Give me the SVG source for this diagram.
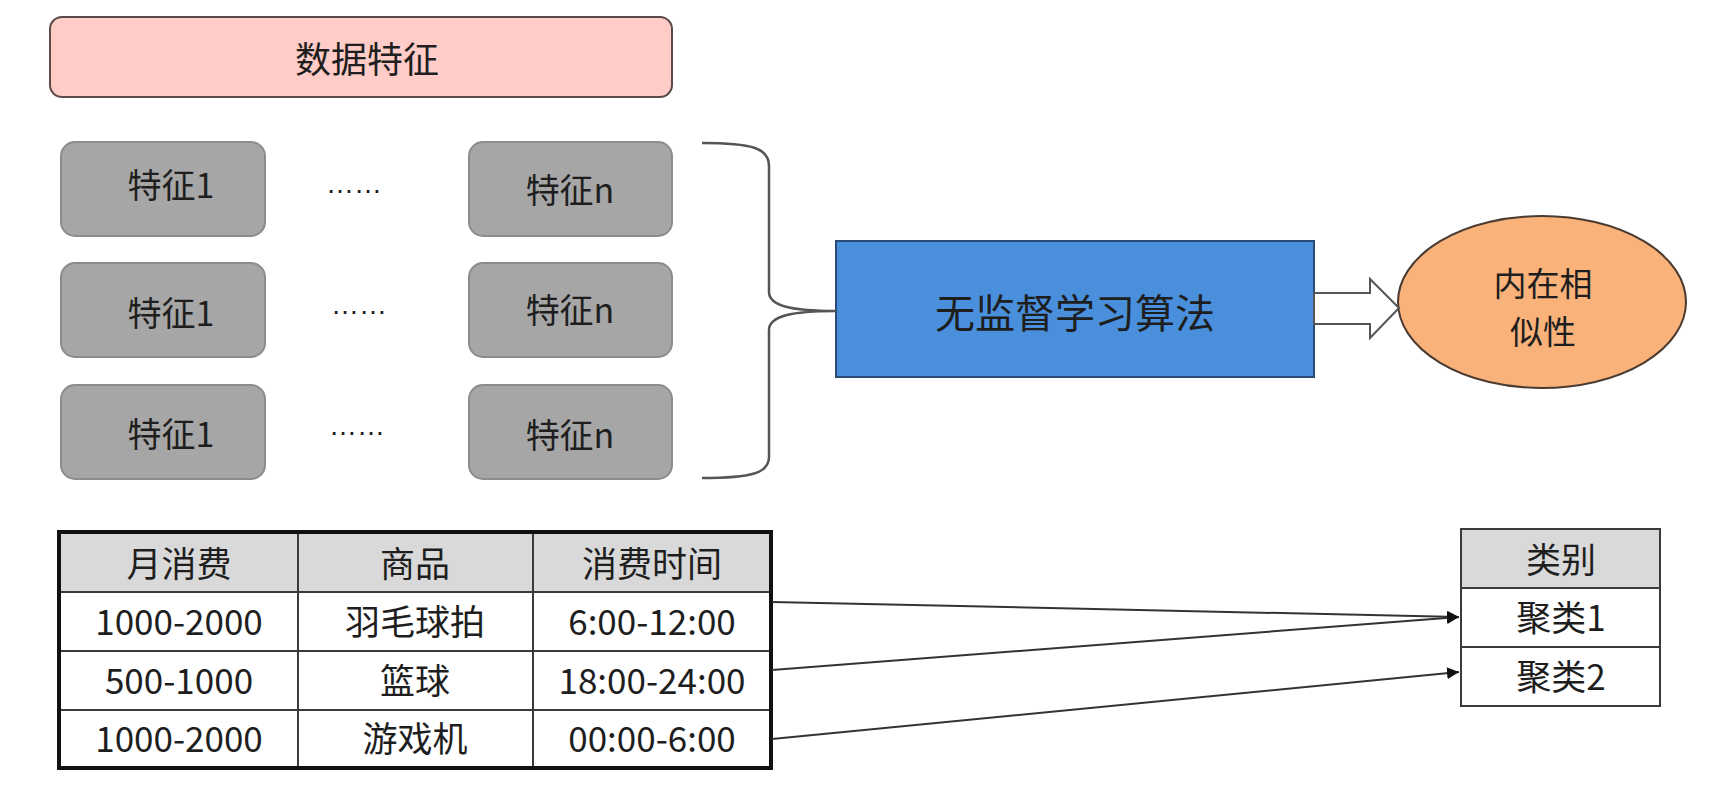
<svg xmlns="http://www.w3.org/2000/svg" width="1719" height="787" viewBox="0 0 1719 787">
<style>
.t{font-family:"Noto Sans CJK SC","Noto Sans",sans-serif;fill:#1e1e1e;text-anchor:middle;dominant-baseline:central}
.feat{fill:#a6a6a6;stroke:#8c8c8c;stroke-width:2}
.dots{font-family:"Liberation Sans",sans-serif;font-size:28px;fill:#1e1e1e}
.cell{fill:#ffffff;stroke:#3a3a3a;stroke-width:2}
.hdr{fill:#d9d9d9;stroke:#3a3a3a;stroke-width:2}
.conn{fill:none;stroke:#333;stroke-width:2}
</style>
<defs>
<marker id="ah" viewBox="0 0 10 10" refX="10" refY="5" markerWidth="6" markerHeight="6" markerUnits="strokeWidth" orient="auto">
<path d="M0,0 L10,5 L0,10 z" fill="#111"/>
</marker>
</defs>
<rect width="1719" height="787" fill="#ffffff"/>

<g id="data-features">
<rect x="50" y="17" width="622" height="80" rx="12" fill="#ffccc7" stroke="#5a4a48" stroke-width="2"/>
<text class="t" x="367" y="57" font-size="36">数据特征</text>
</g>

<g id="feature-r1c1"><rect class="feat" x="61" y="142" width="204" height="94" rx="14"/><text class="t" x="171" y="183" font-size="34">特征1</text></g>
<g id="feature-r1cn"><rect class="feat" x="469" y="142" width="203" height="94" rx="14"/><text class="t" x="570" y="188" font-size="34">特征n</text></g>
<g id="dots-r1"><text class="dots" x="326" y="193">……</text></g>

<g id="feature-r2c1"><rect class="feat" x="61" y="263" width="204" height="94" rx="14"/><text class="t" x="171" y="311" font-size="34">特征1</text></g>
<g id="feature-r2cn"><rect class="feat" x="469" y="263" width="203" height="94" rx="14"/><text class="t" x="570" y="308" font-size="34">特征n</text></g>
<g id="dots-r2"><text class="dots" x="331" y="314">……</text></g>

<g id="feature-r3c1"><rect class="feat" x="61" y="385" width="204" height="94" rx="14"/><text class="t" x="171" y="432" font-size="34">特征1</text></g>
<g id="feature-r3cn"><rect class="feat" x="469" y="385" width="203" height="94" rx="14"/><text class="t" x="570" y="433" font-size="34">特征n</text></g>
<g id="dots-r3"><text class="dots" x="329" y="435">……</text></g>

<g id="algorithm">
<rect x="836" y="241" width="478" height="136" fill="#4a8fdb" stroke="#2c4a78" stroke-width="2"/>
<text class="t" x="1075" y="311" font-size="40">无监督学习算法</text>
</g>

<g id="similarity">
<ellipse cx="1542" cy="302" rx="144" ry="86" fill="#f9b27a" stroke="#4a3a30" stroke-width="2"/>
<text class="t" x="1543" y="282" font-size="33">内在相<tspan x="1543" dy="48">似性</tspan></text>
</g>

<g id="table-data">
<rect class="hdr" x="59" y="532" width="239" height="60"/>
<rect class="hdr" x="298" y="532" width="235" height="60"/>
<rect class="hdr" x="533" y="532" width="238" height="60"/>
<rect class="cell" x="59" y="592" width="239" height="59"/>
<rect class="cell" x="298" y="592" width="235" height="59"/>
<rect class="cell" x="533" y="592" width="238" height="59"/>
<rect class="cell" x="59" y="651" width="239" height="59"/>
<rect class="cell" x="298" y="651" width="235" height="59"/>
<rect class="cell" x="533" y="651" width="238" height="59"/>
<rect class="cell" x="59" y="710" width="239" height="58"/>
<rect class="cell" x="298" y="710" width="235" height="58"/>
<rect class="cell" x="533" y="710" width="238" height="58"/>
<rect x="59" y="532" width="712" height="236" fill="none" stroke="#111" stroke-width="4"/>
<text class="t" x="179" y="561" font-size="35">月消费</text>
<text class="t" x="415" y="561" font-size="35">商品</text>
<text class="t" x="652" y="561" font-size="35">消费时间</text>
<text class="t" x="179" y="619" font-size="35">1000-2000</text>
<text class="t" x="415" y="619" font-size="35">羽毛球拍</text>
<text class="t" x="652" y="619" font-size="35">6:00-12:00</text>
<text class="t" x="179" y="678" font-size="35">500-1000</text>
<text class="t" x="415" y="678" font-size="35">篮球</text>
<text class="t" x="652" y="678" font-size="35">18:00-24:00</text>
<text class="t" x="179" y="736" font-size="35">1000-2000</text>
<text class="t" x="415" y="736" font-size="35">游戏机</text>
<text class="t" x="652" y="736" font-size="35">00:00-6:00</text>
</g>

<g id="table-category">
<rect class="hdr" x="1461" y="529" width="199" height="59"/>
<rect class="cell" x="1461" y="588" width="199" height="59"/>
<rect class="cell" x="1461" y="647" width="199" height="59"/>
<text class="t" x="1561" y="557" font-size="35">类别</text>
<text class="t" x="1561" y="615" font-size="35">聚类1</text>
<text class="t" x="1561" y="674" font-size="35">聚类2</text>
</g>

<g id="connectors">
<path d="M702,143 C752,143 769,148 769,166 L769,292 C769,306 792,311 836,311 C792,311 769,316 769,330 L769,457 C769,473 752,478 702,478" fill="none" stroke="#555" stroke-width="2.5"/>
<polygon points="1314,293 1370,293 1370,279 1399,308 1370,338 1370,324 1314,324" fill="#ffffff" stroke="#555" stroke-width="2"/>
<line class="conn" x1="772" y1="602" x2="1459" y2="617" marker-end="url(#ah)"/>
<line class="conn" x1="772" y1="670" x2="1459" y2="617" marker-end="url(#ah)"/>
<line class="conn" x1="772" y1="739" x2="1459" y2="672" marker-end="url(#ah)"/>
</g>
</svg>
